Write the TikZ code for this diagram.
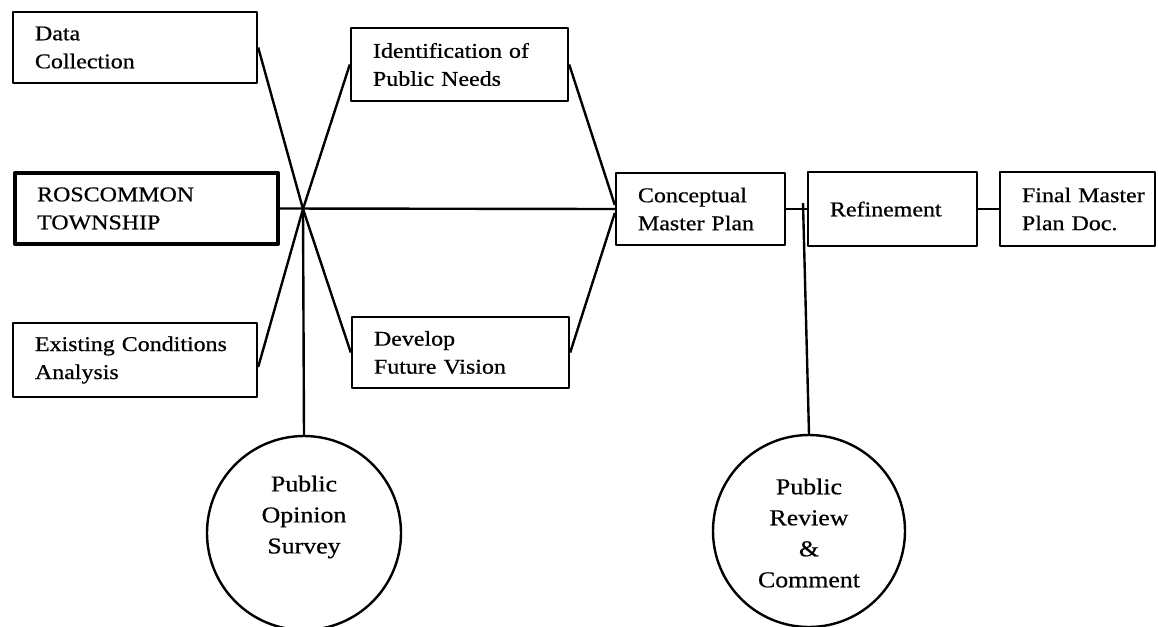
\documentclass[tikz,border=0pt]{standalone}
\usepackage{fontspec}
\setmainfont[FakeStretch=1.14,FakeBold=0.6]{Liberation Serif}
\begin{document}
\begin{tikzpicture}[x=0.75pt,y=-0.75pt, line width=1.8pt, line join=round,
  box/.style={draw, rectangle, inner xsep=16.5pt, inner ysep=0pt, align=left,
    font=\fontsize{15.75}{21}\selectfont},
  thickbox/.style={box, line width=3.4pt},
  ring/.style={draw, circle, inner sep=0pt},
  ctext/.style={align=center, inner sep=0pt, font=\fontsize{17}{23.25}\selectfont},
  link/.style={line width=1.8pt}]
\useasboundingbox (0,0) rectangle (1158,626);

% boxes
\node[box, text width=150pt, minimum height=53.25pt] (dc) at (135,47.5) {Data\\Collection};
\node[box, text width=129.75pt, minimum height=54.75pt] (ipn) at (459.5,64.5) {\mbox{Identification of}\\\mbox{Public Needs}};
\node[thickbox, text width=164pt, minimum height=53pt] (rt) at (146.5,208.5) {ROSCOMMON\\TOWNSHIP};
\node[box, text width=150pt, minimum height=55.5pt] (ec) at (135,360) {\mbox{Existing Conditions}\\Analysis};
\node[box, text width=129.75pt, minimum height=53.25pt] (dfv) at (460.5,352.5) {Develop\\\mbox{Future Vision}};
\node[box, text width=93.75pt, minimum height=54pt] (cmp) at (700.5,209) {Conceptual\\\mbox{Master Plan}};
\node[box, text width=93.75pt, minimum height=55.5pt] (ref) at (892.5,209) {Refinement};
\node[box, text width=83.25pt, minimum height=55.5pt] (fin) at (1077.5,209) {\mbox{Final Master}\\\mbox{Plan Doc.}};

% circles
\node[ring, minimum size=145.5pt] (pos) at (304,533) {};
\node[ring, minimum size=144pt] (prc) at (809,531) {};
\node[ctext] (post) at (304,517) {Public\\Opinion\\Survey};
\node[ctext] (prct) at (809,533) {Public\\Review\\\&\\Comment};

% junction points
\coordinate (X) at (303,209);
\coordinate (rv) at (803,203);

% connectors
\draw[link] (dc.east) -- (X) -- (dfv.west);
\draw[link] (ipn.west) -- (X) -- ([yshift=-5.25pt]ec.east);
\draw[link] (rt.east) -- (cmp.west);
\draw[link] (X) -- (pos.north);
\draw[link] (ipn.east) -- ([yshift=3pt]cmp.west);
\draw[link] (dfv.east) -- ([yshift=-3pt]cmp.west);
\draw[link] (cmp.east) -- (ref.west);
\draw[link] (ref.east) -- (fin.west);
\draw[link] (rv) -- (prc.north);
\end{tikzpicture}
\end{document}
